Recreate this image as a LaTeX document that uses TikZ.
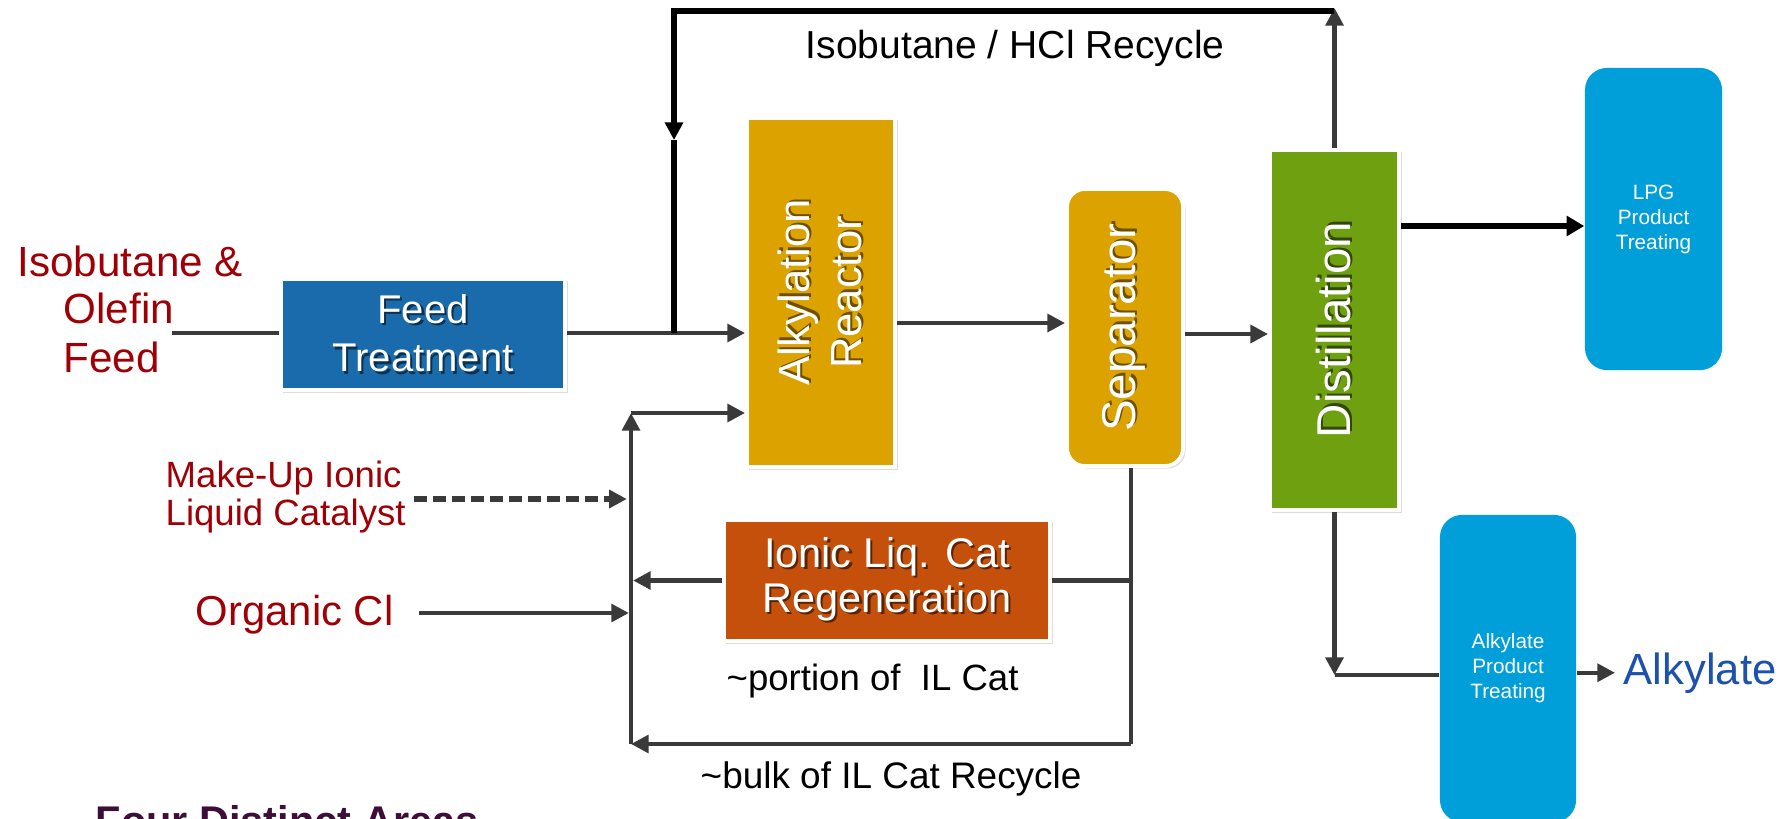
\documentclass[tikz,border=0pt]{standalone}
\usepackage{fontspec}
\setmainfont{Liberation Sans}
\usetikzlibrary{arrows.meta,shadows}

\definecolor{feedblue}{RGB}{26,107,171}
\definecolor{unitgold}{RGB}{219,162,0}
\definecolor{distgreen}{RGB}{111,160,16}
\definecolor{regenorange}{RGB}{196,80,12}
\definecolor{treatblue}{RGB}{0,159,218}
\definecolor{feedred}{RGB}{158,0,6}
\definecolor{prodblue}{RGB}{28,82,172}
\definecolor{linegray}{RGB}{58,58,58}
\definecolor{areapurple}{RGB}{62,14,56}

% font size / baseline skip
\newcommand{\fsz}[2]{\fontsize{#1}{#2}\selectfont}
% white label with a soft dark copy behind it
\newcommand{\txtshadow}[2]{\makebox[0pt][l]{\kern0.7pt\raisebox{-0.7pt}{\textcolor{#1}{#2}}}#2}

\tikzset{
  >={Triangle[length=5pt,width=5pt]},
  unitbox/.style={draw=white, line width=1.1pt, text=white, align=center,
    drop shadow={shadow xshift=0.7pt, shadow yshift=-0.7pt, opacity=0.28}},
  treatbox/.style={fill=treatblue, rounded corners=0.22cm, text=white, align=center},
  pipe/.style={draw=linegray, line width=1.2pt},
  flow/.style={pipe, ->},
  recyc/.style={draw=black, line width=1.6pt},
  feedlbl/.style={text=feedred, inner sep=0pt, anchor=base west},
  note/.style={text=black, inner sep=0pt, anchor=base west},
}

\begin{document}
\begin{tikzpicture}[x=0.01cm, y=-0.01cm]
\useasboundingbox (0,0) rectangle (1786,818);

% ---------- process units ----------
\node[unitbox, fill=feedblue, minimum width=2.84cm, minimum height=1.11cm,
      font=\fsz{11.4}{13.7}] (feed) at (423,334.5)
  {\txtshadow{feedblue!45!black}{Feed}\\\txtshadow{feedblue!45!black}{Treatment}};

\node[unitbox, fill=unitgold, minimum width=1.48cm, minimum height=3.49cm] (reactor) at (821,292.5) {};
\node[rotate=90, text=white, align=center, font=\fsz{12.4}{14.8}] (reactorlbl) at (reactor.center)
  {\txtshadow{unitgold!50!black}{Alkylation}\\\txtshadow{unitgold!50!black}{Reactor}};

\node[unitbox, fill=unitgold, rounded corners=0.18cm, minimum width=1.16cm, minimum height=2.77cm] (sep) at (1125,327.5) {};
\node[rotate=90, text=white, font=\fsz{13.5}{16}] (seplbl) at (sep.center)
  {\txtshadow{unitgold!50!black}{Separator}};

\node[unitbox, fill=distgreen, minimum width=1.29cm, minimum height=3.60cm] (dist) at (1334.5,330) {};
\node[rotate=90, text=white, font=\fsz{13.5}{16}] (distlbl) at (dist.center)
  {\txtshadow{distgreen!45!black}{Distillation}};

\node[unitbox, fill=regenorange, minimum width=3.26cm, minimum height=1.21cm,
      font=\fsz{11.8}{12.8}] (regen) at (887,580.5)
  {\txtshadow{regenorange!45!black}{Ionic Liq. Cat}\\\txtshadow{regenorange!45!black}{Regeneration}};

\node[treatbox, minimum width=1.37cm, minimum height=3.02cm, font=\fsz{5.9}{7.1}] (lpg) at (1653.5,219)
  {LPG\\Product\\Treating};
\node[treatbox, minimum width=1.36cm, minimum height=3.07cm, font=\fsz{5.9}{7.1}] (alky) at (1508,668.5)
  {Alkylate\\Product\\Treating};

% ---------- stream labels ----------
\node[feedlbl, font=\fsz{12}{14}] (feedA) at (17,276) {Isobutane \&};
\node[feedlbl, font=\fsz{12}{14}] (feedB) at (63,323) {Olefin};
\node[feedlbl, font=\fsz{12}{14}] (feedC) at (63,372) {Feed};

\node[feedlbl, font=\fsz{10.4}{11}] (makeupA) at (165,487) {Make-Up Ionic};
\node[feedlbl, font=\fsz{10.4}{11}] (makeupB) at (165,525) {Liquid Catalyst};
\node[feedlbl, font=\fsz{11.9}{14}] (orgcl) at (195,625) {Organic Cl};

\node[note, font=\fsz{11.1}{13}] (recyclbl) at (805,58) {Isobutane / HCl Recycle};
\node[note, font=\fsz{10.4}{12}] (portionlbl) at (726,690) {\textasciitilde portion of~~IL Cat};
\node[note, font=\fsz{10.5}{12}] (bulklbl) at (700,788) {\textasciitilde bulk of IL Cat Recycle};

\node[text=prodblue, anchor=base west, inner ysep=0pt, inner xsep=0.08cm,
      font=\fsz{12.4}{14}] (alkylate) at (1615,684) {Alkylate};

\node[text=areapurple, inner sep=0pt, anchor=base west, font=\fsz{11.8}{14}\bfseries] (areas) at (95,835)
  {Four Distinct Areas};

% ---------- junction points ----------
\coordinate (feedin) at (172,333);
\coordinate (ovtip)  at (1334,8);
\coordinate (ovhd)   at (1334,11);
\coordinate (rdrop)  at (674,140);
\coordinate (rjoin)  at (674,333);
\coordinate (rxs)    at (896,323);
\coordinate (sxd)    at (1185,334);
\coordinate (lpgin)  at (1401,226);
\coordinate (acorner) at (1334.5,675);
\coordinate (lt) at (631,413);
\coordinate (lb) at (631,744);
\coordinate (sb) at (1131,744);
\coordinate (mu) at (414,499);
\coordinate (oc) at (419,613);

% ---------- feed and main train ----------
\draw[pipe] (feedin) -- (feedin -| feed.west);
\draw[flow] (feed.east |- feedin) -- (feedin -| reactor.west);
\draw[flow] (reactor.east |- rxs) -- (rxs -| sep.west);
\draw[flow] (sep.east |- sxd) -- (sxd -| dist.west);
\draw[recyc, -{Triangle[length=5pt,width=5.5pt]}] (dist.east |- lpgin) -- (lpgin -| lpg.west);

% overhead recycle
\draw[flow] (dist.north) -- (dist.north |- ovtip);
\draw[recyc, ->] (ovhd) -| (rdrop);
\draw[recyc] (rdrop) -- (rjoin);

% bottoms to alkylate treating
\draw[flow] (dist.south) -- (acorner);
\draw[pipe] (acorner) -- (acorner -| alky.west);
\draw[flow] (alky.east |- alkylate.west) -- (alkylate.west);

% ---------- ionic liquid catalyst loop ----------
\draw[pipe] (sb |- sep.south) -- (sb);
\draw[flow] (sb) -- (lb);
\draw[flow] (lb) -- (lt);
\draw[flow] (lt) -- (lt -| reactor.west);
\draw[pipe] (sb |- regen.east) -- (regen.east);
\draw[flow, shorten >=0.6pt] (regen.west) -- (regen.west -| lb);
\draw[flow, line width=1.6pt, dash pattern=on 3.7pt off 1.7pt, shorten >=1.2pt] (mu) -- (mu -| lb);
\draw[flow, shorten >=0.6pt] (oc) -- (oc -| lb);
\end{tikzpicture}
\end{document}
